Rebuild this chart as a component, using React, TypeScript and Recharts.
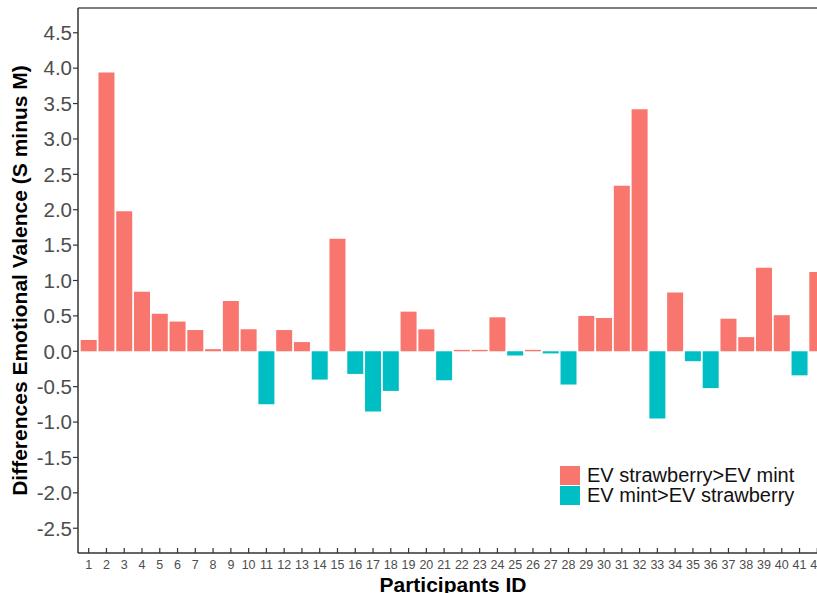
import React from 'react';
import { BarChart, Bar, Cell, XAxis, YAxis, ReferenceLine } from 'recharts';

// participant ids and the S minus M differences
const participants = [
  '1', '2', '3', '4', '5', '6', '7', '8', '9', '10', '11', '12', '13', '14',
  '15', '16', '17', '18', '19', '20', '21', '22', '23', '24', '25', '26', '27', '28',
  '29', '30', '31', '32', '33', '34', '35', '36', '37', '38', '39', '40', '41', '42',
];
const differences = [
  0.16, 3.94, 1.98, 0.84, 0.53, 0.42, 0.3, 0.03, 0.71, 0.31, -0.75, 0.3, 0.13, -0.4,
  1.59, -0.32, -0.85, -0.56, 0.56, 0.31, -0.41, 0.02, 0.02, 0.48, -0.06, 0.02, -0.03, -0.47,
  0.5, 0.47, 2.34, 3.42, -0.95, 0.83, -0.14, -0.52, 0.46, 0.2, 1.18, 0.51, -0.34, 1.12,
];
const yTicks = [-2.5, -2, -1.5, -1, -0.5, 0, 0.5, 1, 1.5, 2, 2.5, 3, 3.5, 4, 4.5];
const legendLabels = ['EV strawberry>EV mint', 'EV mint>EV strawberry'];

const POS_COLOR = '#F8766D';
const NEG_COLOR = '#00BFC4';
const FONT = '"Liberation Sans", Arial, Helvetica, sans-serif';

const data = participants.map((id, i) => ({ id, value: differences[i] }));

// x ticks point up into the panel, like the original
const XTick = (props: any) => {
  const { x, y, payload } = props;
  return (
    <g>
      <line x1={x} x2={x} y1={y} y2={y - 5} stroke="#333" strokeWidth={1.2} />
      <text x={x} y={y + 16} textAnchor="middle" fontSize={12.5} fill="#4d4d4d" fontFamily={FONT}>
        {payload.value}
      </text>
    </g>
  );
};

export default function App() {
  return (
    <div
      style={{
        position: 'absolute',
        left: 0,
        top: 0,
        width: 817,
        height: 593,
        overflow: 'hidden',
        background: '#fff',
        fontFamily: FONT,
      }}
    >
      <BarChart
        width={830}
        height={593}
        data={data}
        margin={{ top: 8, right: 2, left: 0, bottom: 0 }}
        barCategoryGap="5%"
      >
        <XAxis
          dataKey="id"
          interval={0}
          height={40}
          tickSize={0}
          tickMargin={0}
          tickLine={false}
          padding={{ left: 1.8, right: 1.8 }}
          axisLine={{ stroke: '#333', strokeWidth: 1.5 }}
          tick={<XTick />}
          label={{
            content: (p: any) => {
              const vb = p.viewBox;
              return (
                <text
                  x={vb.x + vb.width / 2}
                  y={vb.y + 39}
                  textAnchor="middle"
                  fontSize={21}
                  fontWeight="bold"
                  fill="#000"
                  fontFamily={FONT}
                >
                  Participants ID
                </text>
              );
            },
          }}
        />
        <YAxis
          type="number"
          width={78}
          domain={[-2.85, 4.85]}
          ticks={yTicks}
          interval={0}
          tickFormatter={(v: number) => v.toFixed(1)}
          tickSize={5}
          tickMargin={1}
          tick={{ fontSize: 20.5, fill: '#4d4d4d', fontFamily: FONT }}
          tickLine={{ stroke: '#333', strokeWidth: 1.2 }}
          axisLine={{ stroke: '#333', strokeWidth: 1.5 }}
          label={{
            content: (p: any) => {
              const vb = p.viewBox;
              const cx = vb.x + 27;
              const cy = vb.y + vb.height / 2;
              return (
                <text
                  x={cx}
                  y={cy}
                  transform={`rotate(-90, ${cx}, ${cy})`}
                  textAnchor="middle"
                  fontSize={21}
                  fontWeight="bold"
                  fill="#000"
                  fontFamily={FONT}
                >
                  Differences Emotional Valence (S minus M)
                </text>
              );
            },
          }}
        />
        <ReferenceLine y={4.85} stroke="#555" strokeWidth={1.5} />
        <Bar dataKey="value" isAnimationActive={false}>
          {data.map((d) => (
            <Cell key={d.id} fill={d.value >= 0 ? POS_COLOR : NEG_COLOR} />
          ))}
        </Bar>
      </BarChart>

      {/* legend sits inside the panel, bottom right */}
      <div style={{ position: 'absolute', left: 560, top: 465, fontSize: 20, color: '#111', lineHeight: '20px' }}>
        {legendLabels.map((label, i) => (
          <div key={label} style={{ display: 'flex', alignItems: 'center', height: 20 }}>
            <span
              style={{
                display: 'inline-block',
                width: 20,
                height: 19,
                background: i === 0 ? POS_COLOR : NEG_COLOR,
                marginRight: 7,
              }}
            />
            <span>{label}</span>
          </div>
        ))}
      </div>
    </div>
  );
}
